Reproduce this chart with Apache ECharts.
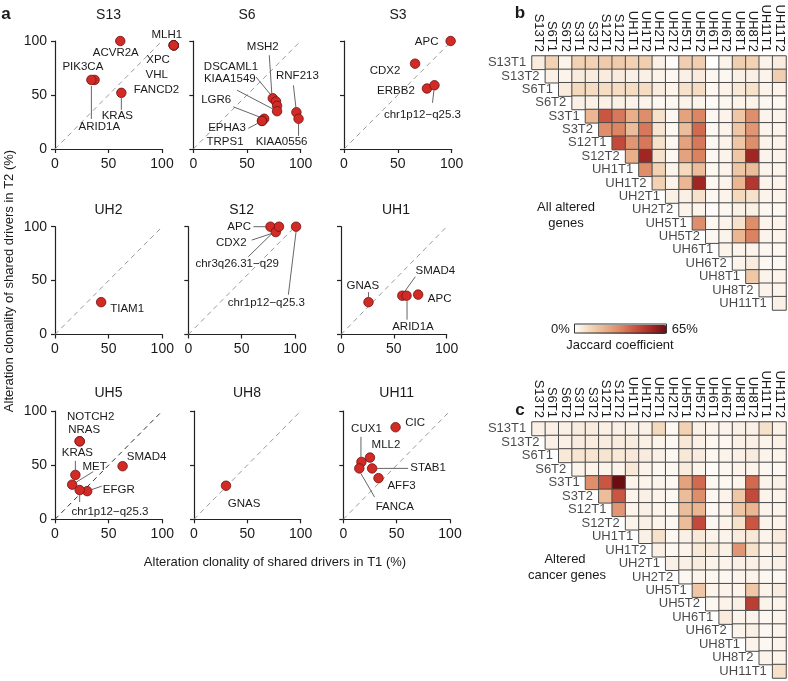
<!DOCTYPE html>
<html>
<head>
<meta charset="utf-8">
<script src="https://cdn.jsdelivr.net/npm/echarts@6/dist/echarts.min.js"></script>
<style>
  html, body { margin: 0; padding: 0; background: #fff; }
  #chart { width: 788px; height: 681px; }
</style>
</head>
<body>
<div id="chart"></div>
<script>
const FONT = '"Liberation Sans", Arial, Helvetica, sans-serif'
const INK = '#1a1a1a'

// ---- panel a: clonality (%) of shared drivers in T1 vs T2 ----
const panelNames = ['S13', 'S6', 'S3', 'UH2', 'S12', 'UH1', 'UH5', 'UH8', 'UH11']

const s13Genes = ['ACVR2A', 'MLH1', 'XPC', 'VHL', 'FANCD2', 'PIK3CA', 'ARID1A', 'KRAS']
const s13T1 = [61, 111, 111, 111, 111, 37, 34, 62]
const s13T2 = [100, 96, 96, 96, 96, 64, 64, 52]

const s6Genes = ['MSH2', 'DSCAML1', '', 'KIAA1549', 'LGR6', 'EPHA3', 'TRPS1', 'RNF213', 'KIAA0556']
const s6T1 = [74, 77, 78, 78, 66, 64, 64, 96, 98]
const s6T2 = [47, 44, 40, 35, 28, 26, 26, 34, 28]

const s3Genes = ['APC', 'CDX2', 'ERBB2', 'chr1p12\u2212q25.3']
const s3T1 = [99, 66, 77, 84]
const s3T2 = [100, 79, 56, 59]

const uh2Genes = ['TIAM1']
const uh2T1 = [43]
const uh2T2 = [30]

const s12Genes = ['APC', 'CDX2', 'chr3q26.31\u2212q29', 'chr1p12\u2212q25.3']
const s12T1 = [77, 82, 85, 101]
const s12T2 = [100, 95, 100, 100]

const uh1Genes = ['GNAS', 'SMAD4', 'ARID1A', 'APC']
const uh1T1 = [26, 58, 62, 73]
const uh1T2 = [30, 36, 36, 37]

const uh5Genes = ['NOTCH2', 'NRAS', 'KRAS', 'MET', 'SMAD4', 'EFGR', 'chr1p12\u2212q25.3']
const uh5T1 = [23, 23, 19, 16, 63, 30, 23]
const uh5T2 = [72, 72, 41, 32, 49, 26, 27]

const uh8Genes = ['GNAS']
const uh8T1 = [30]
const uh8T2 = [31]

const uh11Genes = ['CIC', 'MLL2', 'CUX1', 'FANCA', 'STAB1', 'AFF3']
const uh11T1 = [49, 25, 17, 15, 27, 33]
const uh11T2 = [85, 57, 53, 47, 47, 38]

const axisTicks = [0, 50, 100]
const identityLine = [0, 100]

// ---- panels b, c: Jaccard coefficient (%) between tumour regions ----
const rowSamples = ['S13T1', 'S13T2', 'S6T1', 'S6T2', 'S3T1', 'S3T2', 'S12T1', 'S12T2', 'UH1T1', 'UH1T2',
  'UH2T1', 'UH2T2', 'UH5T1', 'UH5T2', 'UH6T1', 'UH6T2', 'UH8T1', 'UH8T2', 'UH11T1']
const colSamples = ['S13T2', 'S6T1', 'S6T2', 'S3T1', 'S3T2', 'S12T1', 'S12T2', 'UH1T1', 'UH1T2', 'UH2T1',
  'UH2T2', 'UH5T1', 'UH5T2', 'UH6T1', 'UH6T2', 'UH8T1', 'UH8T2', 'UH11T1', 'UH11T2']

// upper triangle, row r starts at column r
const allAlteredRows = [
  [5, 12, 3, 12, 12, 14, 14, 12, 13, 4, 1, 13, 13, 0, 3, 13, 12, 3, 5],
  [4, 3, 5, 5, 5, 5, 4, 4, 3, 2, 4, 5, 2, 2, 4, 4, 3, 13],
  [5, 10, 9, 9, 9, 9, 9, 5, 3, 8, 9, 2, 3, 6, 8, 3, 3],
  [4, 4, 4, 4, 3, 3, 2, 2, 3, 3, 1, 2, 3, 3, 2, 2],
  [20, 42, 35, 22, 30, 8, 2, 25, 32, 2, 3, 15, 30, 3, 3],
  [30, 32, 18, 35, 7, 2, 18, 38, 2, 3, 15, 28, 3, 3],
  [45, 28, 35, 8, 2, 25, 35, 2, 3, 15, 30, 3, 3],
  [22, 55, 8, 2, 25, 33, 2, 3, 15, 55, 3, 3],
  [30, 12, 3, 10, 18, 2, 3, 15, 18, 3, 3],
  [12, 3, 20, 55, 2, 3, 20, 50, 3, 3],
  [4, 4, 8, 2, 3, 10, 8, 3, 3],
  [3, 3, 1, 2, 4, 4, 2, 2],
  [30, 2, 3, 8, 30, 3, 3],
  [2, 3, 20, 33, 3, 3],
  [3, 3, 3, 2, 2],
  [3, 5, 2, 2],
  [15, 3, 3],
  [3, 3],
  [4]
]

const cancerGeneRows = [
  [4, 4, 4, 5, 5, 4, 4, 4, 4, 10, 2, 12, 4, 3, 3, 4, 4, 8, 4],
  [4, 4, 5, 5, 5, 5, 5, 4, 3, 2, 6, 4, 2, 2, 4, 4, 3, 4],
  [6, 7, 7, 7, 6, 6, 5, 4, 2, 6, 5, 2, 3, 4, 5, 3, 3],
  [3, 3, 3, 3, 6, 3, 2, 2, 5, 3, 1, 2, 3, 3, 2, 2],
  [30, 42, 65, 3, 3, 3, 2, 25, 38, 2, 2, 3, 38, 3, 4],
  [18, 42, 3, 4, 3, 2, 18, 30, 2, 3, 15, 45, 3, 3],
  [28, 3, 4, 3, 2, 18, 20, 2, 3, 15, 20, 3, 3],
  [3, 4, 3, 2, 18, 45, 2, 3, 8, 42, 3, 3],
  [4, 8, 2, 4, 6, 3, 3, 5, 6, 3, 5],
  [4, 2, 3, 6, 5, 4, 28, 8, 3, 5],
  [4, 4, 5, 3, 3, 4, 4, 3, 4],
  [2, 3, 2, 2, 3, 3, 2, 2],
  [15, 3, 3, 3, 15, 3, 5],
  [2, 3, 4, 48, 3, 3],
  [5, 3, 3, 2, 3],
  [3, 4, 2, 3],
  [3, 2, 3],
  [3, 3],
  [8]
]
const jaccardRange = [0, 65]

// ---- layout ----
const panelGenes = [s13Genes, s6Genes, s3Genes, uh2Genes, s12Genes, uh1Genes, uh5Genes, uh8Genes, uh11Genes]
const panelT1 = [s13T1, s6T1, s3T1, uh2T1, s12T1, uh1T1, uh5T1, uh8T1, uh11T1]
const panelT2 = [s13T2, s6T2, s3T2, uh2T2, s12T2, uh1T2, uh5T2, uh8T2, uh11T2]

// left, top, width, height of each small plot
const panelBoxes = [
  [55, 41, 107, 108], [193.3, 41, 107.4, 108], [344, 41, 107.7, 108],
  [55, 226.7, 107.3, 107.8], [188.3, 226.7, 106.7, 107.8], [341, 226.7, 105.7, 107.8],
  [55, 411, 107.3, 108.3], [194, 411, 106.7, 108.3], [343.3, 411, 106.7, 108.3]
]
const titleSpots = [[108.5, 15], [247, 15], [398, 15], [108.5, 210], [241.7, 210], [396, 210],
  [108.5, 393], [247, 393], [396.7, 393]]

// label offset from its point (px) and optional leader line [x1, y1, x2, y2]
const labelPlacement = {
  'S13:ACVR2A': { at: [-4.5, 12] },
  'S13:MLH1': { at: [-7, -10.7] },
  'S13:XPC': { at: [-15.7, 15] },
  'S13:VHL': { at: [-17, 30] },
  'S13:FANCD2': { at: [-17.3, 44.3] },
  'S13:PIK3CA': { at: [-11.7, -12.6] },
  'S13:ARID1A': { at: [8, 47.4], lead: [0, 6, 0, 39] },
  'S13:KRAS': { at: [-4, 23.4], lead: [0, 5, 0, 17] },
  'S6:MSH2': { at: [-10, -51.5], lead: [-3.5, -43, -1, -5] },
  'S6:DSCAML1': { at: [-45, -35], lead: [-20, -24.5, -3, -4] },
  'S6:KIAA1549': { at: [-47.3, -32], lead: [-40, -21, -4.4, -2.3] },
  'S6:LGR6': { at: [-48, -19], lead: [-31, -12, -4.7, -1.8] },
  'S6:EPHA3': { at: [-35, 7.4], lead: [-13.7, 7.4, -4.3, 2.4] },
  'S6:TRPS1': { at: [-37, 20.8] },
  'S6:RNF213': { at: [1, -36.3], lead: [-3, -27, -0.5, -5] },
  'S6:KIAA0556': { at: [-17, 23], lead: [0, 5, 0, 17] },
  'S3:APC': { at: [-24, 0.7] },
  'S3:CDX2': { at: [-30, 7] },
  'S3:ERBB2': { at: [-31, 2] },
  'S3:chr1p12\u2212q25.3': { at: [-12, 30], lead: [-0.5, 5, -2, 17.5] },
  'UH2:TIAM1': { at: [26, 7] },
  'S12:APC': { at: [-31.3, 0], lead: [-17, 0, -5, 0] },
  'S12:CDX2': { at: [-44.5, 10.6], lead: [-24, 8, -4.7, 1.6] },
  'S12:chr3q26.31\u2212q29': { at: [-41.8, 37.6], lead: [-30.7, 30, -3.6, 3.5] },
  'S12:chr1p12\u2212q25.3': { at: [-29.7, 76.6], lead: [-7.7, 68, 0, 5] },
  'UH1:GNAS': { at: [-5.6, -16.2], lead: [0, -10, 0, -5] },
  'UH1:SMAD4': { at: [33, -25], lead: [13, -19, 2.5, -4.3] },
  'UH1:ARID1A': { at: [6.4, 31], lead: [0.5, 5, 0.5, 24] },
  'UH1:APC': { at: [21.5, 4.7] },
  'UH5:NOTCH2': { at: [11, -24.6] },
  'UH5:NRAS': { at: [4.5, -11.3] },
  'UH5:KRAS': { at: [2, -22.2], lead: [0, -14, 0, -5] },
  'UH5:MET': { at: [22.5, -18], lead: [21, -13, 4.3, -2.6] },
  'UH5:SMAD4': { at: [24, -9] },
  'UH5:EFGR': { at: [31.6, -1.8], lead: [14.5, -5, 4.7, -1.6] },
  'UH5:chr1p12\u2212q25.3': { at: [30.3, 21.6], lead: [0, 5, 0, 12] },
  'UH8:GNAS': { at: [18, 18] },
  'UH11:CIC': { at: [19.5, -4.3] },
  'UH11:MLL2': { at: [16, -12.6] },
  'UH11:CUX1': { at: [5, -33.4], lead: [-0.5, -25, -0.5, -5] },
  'UH11:FANCA': { at: [35.5, 38.7], lead: [1.5, 5, 15.3, 28.7] },
  'UH11:STAB1': { at: [56, -0.7], lead: [5, 0, 36, 0] },
  'UH11:AFF3': { at: [23, 7.3] }
}

function geneLabels(i) {
  const name = panelNames[i]
  const genes = panelGenes[i]
  return {
    type: 'custom',
    xAxisIndex: i,
    yAxisIndex: i,
    clip: false,
    silent: true,
    z: 3,
    data: panelT1[i].map((x, k) => [x, panelT2[i][k]]),
    renderItem(params, api) {
      const gene = genes[params.dataIndex]
      const place = labelPlacement[name + ':' + gene]
      if (!gene || !place) return null
      const p = api.coord([api.value(0), api.value(1)])
      const kids = [{
        type: 'text',
        x: p[0] + place.at[0],
        y: p[1] + place.at[1],
        style: { text: gene, fill: INK, font: '11.5px ' + FONT, align: 'center', verticalAlign: 'middle' }
      }]
      if (place.lead) {
        const l = place.lead
        kids.push({
          type: 'line',
          shape: { x1: p[0] + l[0], y1: p[1] + l[1], x2: p[0] + l[2], y2: p[1] + l[3] },
          style: { stroke: '#555', lineWidth: 0.9 }
        })
      }
      return { type: 'group', children: kids }
    }
  }
}

const grids = panelBoxes.map(([left, top, width, height]) => ({ left, top, width, height, outerBoundsMode: 'none' }))
grids.push({ left: 532, top: 56, width: 254, height: 254, outerBoundsMode: 'none' })
grids.push({ left: 532, top: 422, width: 254, height: 256, outerBoundsMode: 'none' })

const xAxes = []
const yAxes = []
const series = []

panelNames.forEach((name, i) => {
  const base = {
    type: 'value',
    gridIndex: i,
    min: axisTicks[0],
    max: axisTicks[axisTicks.length - 1],
    interval: axisTicks[1] - axisTicks[0],
    splitLine: { show: false },
    axisLine: { show: true, onZero: false, lineStyle: { color: '#222', width: 1.2 } },
    axisTick: { show: true, length: 4, lineStyle: { color: '#222', width: 1.2 } }
  }
  xAxes.push({ ...base, axisLabel: { fontFamily: FONT, fontSize: 14, color: INK, margin: 8 } })
  yAxes.push({ ...base, axisLabel: { show: i % 3 === 0, fontFamily: FONT, fontSize: 14, color: INK, margin: 8 } })

  series.push({
    type: 'line',
    xAxisIndex: i,
    yAxisIndex: i,
    data: identityLine.map(v => [v, v]),
    symbol: 'none',
    silent: true,
    z: 1,
    lineStyle: { color: name === 'UH5' ? '#333' : '#9a9a9a', width: 1, type: [5, 4] }
  })
  series.push({
    type: 'scatter',
    xAxisIndex: i,
    yAxisIndex: i,
    clip: false,
    z: 4,
    symbolSize: 9.5,
    data: panelT1[i].map((x, k) => [x, panelT2[i][k]]),
    itemStyle: { color: '#d22b26', borderColor: '#6d1111', borderWidth: 0.8, opacity: 1 }
  })
  series.push(geneLabels(i))
})

function heatCells(rows) {
  const cells = []
  rows.forEach((vals, r) => vals.forEach((v, k) => cells.push([r + k, r, v])))
  return cells
}

const heatSeriesIdx = []
;[[9, allAlteredRows], [10, cancerGeneRows]].forEach(([g, rows]) => {
  xAxes.push({
    type: 'category', gridIndex: g, position: 'top', data: colSamples,
    axisLine: { show: false }, axisTick: { show: false }, splitLine: { show: false },
    axisLabel: { interval: 0, rotate: 90, margin: 4, fontFamily: FONT, fontSize: 13, color: INK }
  })
  yAxes.push({ type: 'category', gridIndex: g, inverse: true, data: rowSamples, show: false })
  heatSeriesIdx.push(series.length)
  series.push({
    type: 'heatmap', xAxisIndex: g, yAxisIndex: g,
    data: heatCells(rows),
    itemStyle: { borderColor: '#4a4a4a', borderWidth: 1 },
    emphasis: { disabled: true }
  })
  series.push({
    type: 'scatter', xAxisIndex: g, yAxisIndex: g, silent: true, z: 5,
    symbolSize: 1,
    itemStyle: { color: 'rgba(0,0,0,0)' },
    data: rowSamples.map((s, r) => [r, r]),
    label: {
      show: true, position: 'left', distance: 12,
      formatter: p => rowSamples[p.dataIndex],
      fontFamily: FONT, fontSize: 13, color: INK
    }
  })
})

function txt(text, x, y, size, extra) {
  return {
    type: 'text', x, y, silent: true,
    style: Object.assign({ text, fill: INK, font: size + 'px ' + FONT, align: 'center', verticalAlign: 'middle' }, extra || {})
  }
}

const graphics = [
  txt('a', 6, 14, 17, { font: 'bold 17px ' + FONT }),
  txt('b', 520, 13, 17, { font: 'bold 17px ' + FONT }),
  txt('c', 520, 410, 17, { font: 'bold 17px ' + FONT }),
  Object.assign(txt('Alteration clonality of shared drivers in T2 (%)', 9, 281, 13), { rotation: Math.PI / 2 }),
  txt('Alteration clonality of shared drivers in T1 (%)', 275, 562, 13),
  txt('All altered', 566, 207, 13),
  txt('genes', 566, 223, 13),
  txt('Altered', 565, 559, 13),
  txt('cancer genes', 567, 575, 13),
  txt('Jaccard coefficient', 620, 345, 13),
  { type: 'rect', silent: true, z: 100, shape: { x: 574.5, y: 324, width: 92, height: 9 },
    style: { fill: 'none', stroke: '#333', lineWidth: 1 } }
]
panelNames.forEach((name, i) => graphics.push(txt(name, titleSpots[i][0], titleSpots[i][1], 14)))

const option = {
  animation: false,
  backgroundColor: '#fff',
  textStyle: { fontFamily: FONT },
  grid: grids,
  xAxis: xAxes,
  yAxis: yAxes,
  visualMap: {
    type: 'continuous',
    min: jaccardRange[0],
    max: jaccardRange[1],
    seriesIndex: heatSeriesIdx,
    orient: 'horizontal',
    left: 536,
    top: 308,
    itemWidth: 9,
    itemHeight: 92,
    textGap: 5,
    text: ['65%', '0%'],
    calculable: false,
    textStyle: { fontFamily: FONT, fontSize: 13, color: INK },
    inRange: { color: ['#ffffff', '#f3d6b8', '#e9b08a', '#dc8462', '#c8503e', '#a52825', '#6a0c10'] }
  },
  graphic: graphics,
  series
}

const chart = echarts.init(document.getElementById('chart'), null, { renderer: 'canvas' })
chart.setOption(option)
window.addEventListener('resize', () => chart.resize())
</script>
</body>
</html>
